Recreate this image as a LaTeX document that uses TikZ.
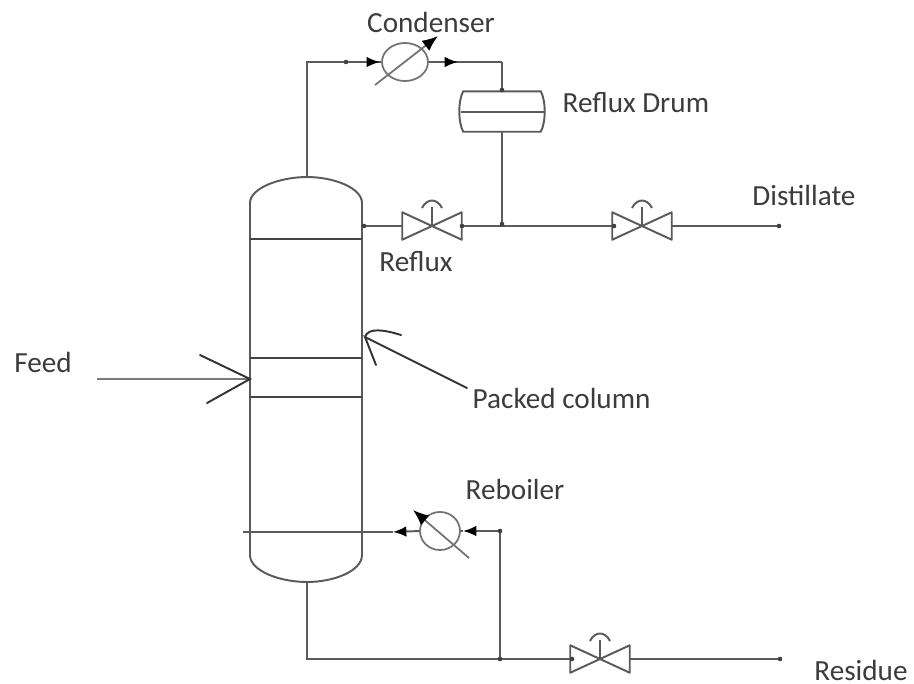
\documentclass[tikz,border=0pt]{standalone}
\usepackage{fontspec}
\setmainfont{Carlito}
\usepackage{xcolor}
\usetikzlibrary{positioning,arrows.meta,calc,shapes.geometric}
\definecolor{pipe}{RGB}{90,90,90}
\definecolor{lbl}{RGB}{60,60,60}
\tikzset{
  pipeline/.style={draw=pipe,line width=0.55pt},
  flow/.style={pipeline,-{Latex[length=3.8pt,width=3pt,black]}},
  heatline/.style={draw=pipe!85,line width=0.5pt,-{Latex[length=4.5pt,width=3.6pt,black]}},
  tray/.style={draw=pipe!75!black,line width=0.75pt},
  lbltext/.style={font=\fontsize{8.3}{10}\selectfont,text=lbl,inner sep=0pt},
  valvebox/.style={minimum width=0.58cm,minimum height=0.26cm,inner sep=0pt},
  exchanger/.style={ellipse,draw=pipe!85,line width=0.5pt,inner sep=0pt},
  hand/.style={draw=black!80,line width=0.55pt,line cap=round}
}
% valve symbol on a named box: bow tie, stem and hand wheel
\newcommand{\valvesym}[1]{%
  \draw[pipeline,line join=round] (#1.north west) -- (#1.south east) -- (#1.north east) -- (#1.south west) -- cycle;
  \draw[pipeline] (#1.center) -- ++(0,-19);
  \draw[pipeline] ($(#1.center)+(-10,-18)$) .. controls ($(#1.center)+(-5,-28)$) and ($(#1.center)+(5,-28)$) .. ($(#1.center)+(10,-18)$);}
\newcommand{\pipedot}[1]{\fill[black!75] (#1) circle (2.3);}

\begin{document}
\begin{tikzpicture}[x=0.01cm,y=-0.01cm]
\fill[white] (0,0) rectangle (914,684);
% ---- column shell, dome heads and trays ----
\coordinate (domeT) at (307,177);
\coordinate (domeB) at (307,582);
\coordinate (sideE) at (362,226);
\coordinate (feedin) at (250,379);
\coordinate (packtip) at (365,337);
\draw[pipeline] (250,555) -- (250,203) .. controls (250,188) and (280,177) .. (domeT)
  .. controls (334,177) and (362,188) .. (362,203) -- (362,555)
  .. controls (362,571) and (334,582) .. (domeB) .. controls (280,582) and (250,571) .. cycle;
\draw[tray] (250,239) -- (362,239);
\draw[tray] (250,358) -- (362,358);
\draw[tray] (250,397) -- (362,397);
\draw[pipeline] (243,532) -- (362,532);
% ---- condenser and reflux drum ----
\node[exchanger,minimum width=0.46cm,minimum height=0.38cm] (condenser) at (405,62) {};
\coordinate (condA) at (307,62);
\coordinate (condB) at (502,62);
\coordinate (condtail) at (375,85);
\coordinate (condhead) at (438,36);
\draw[pipeline] (domeT) -- (condA) -- (condenser.west);
\draw[pipeline] (condenser.east) -- (condB);
\draw[flow] ($(condA)+(39,0)$) -- (380,62);
\draw[flow] (condenser.east) -- (458,62);
\pipedot{346,62}
\draw[heatline] (condtail) -- (condhead);
\node[minimum width=0.76cm,minimum height=0.39cm,inner sep=0pt] (drum) at (502,111.5) {};
\draw[pipeline] (drum.north west) -- (drum.north east) .. controls (546,100) and (546,123) .. (drum.south east)
  -- (drum.south west) .. controls (458,123) and (458,100) .. cycle;
\draw[pipeline] (461,112) -- (544,112);
\draw[pipeline] (condB) -- (drum.north);
\pipedot{502,90}
% ---- reflux and distillate line ----
\node[valvebox] (valveA) at (432,226) {};
\node[valvebox] (valveB) at (642,226) {};
\valvesym{valveA}
\valvesym{valveB}
\coordinate (junctA) at (502,226);
\coordinate (distend) at (779,226);
\draw[pipeline] (sideE) -- (valveA.west);
\draw[pipeline] (valveA.east) -- (junctA) -- (valveB.west);
\draw[pipeline] (valveB.east) -- (distend);
\draw[pipeline] (drum.south) -- (junctA);
\pipedot{502,224}
\pipedot{364,226}
\pipedot{462,226}
\pipedot{614,226}
\pipedot{distend}
% ---- reboiler and residue line ----
\node[exchanger,minimum width=0.40cm,minimum height=0.38cm] (reboiler) at (440,531) {};
\node[valvebox] (valveC) at (600,659) {};
\valvesym{valveC}
\coordinate (rebA) at (500,531);
\coordinate (rebB) at (500,659);
\coordinate (botA) at (307,659);
\coordinate (resend) at (780,659);
\coordinate (rebtail) at (469,558);
\coordinate (rebhead) at (413,510);
\draw[flow] (reboiler.west) -- (393,532);
\draw[pipeline] (393,532) -- (362,532);
\draw[flow] (rebA) -- (463,531);
\draw[pipeline] (463,531) -- (reboiler.east);
\draw[pipeline] (rebA) -- (rebB);
\draw[pipeline,line width=0.7pt] (domeB) -- (botA) -- (rebB) -- (valveC.west);
\draw[pipeline,line width=0.7pt] (valveC.east) -- (resend);
\draw[heatline] (rebtail) -- (rebhead);
\pipedot{rebA}
\pipedot{rebB}
\pipedot{572,659}
\pipedot{resend}
% ---- hand drawn feed and pointer ----
\coordinate (feedst) at (97,379);
\coordinate (feedup) at (200,355);
\coordinate (feeddn) at (207,403);
\draw[draw=pipe!80,line width=0.8pt] (feedst) -- (feedin);
\draw[hand] (feedup) -- (feedin) -- (feeddn);
\coordinate (packA) at (376,365);
\coordinate (packB) at (401,335);
\coordinate (packC) at (467,388);
\draw[hand] (packC) -- (packtip) -- (packA);
\draw[hand] (packtip) .. controls (368,327) and (385,330) .. (packB);
% ---- labels ----
\node[lbltext] (condlbl) at (431,22) {Condenser};
\node[lbltext,anchor=west] (drumlbl) at (562,103) {Reflux Drum};
\node[lbltext] (distlbl) at (804,195) {Distillate};
\node[lbltext] (reflbl) at (416,262) {Reflux};
\node[lbltext] (feedlbl) at (43,362) {Feed};
\node[lbltext,anchor=west] (packlbl) at (472,398) {Packed column};
\node[lbltext] (reblbl) at (515,489) {Reboiler};
\node[lbltext] (reslbl) at (861,670) {Residue};
\end{tikzpicture}
\end{document}
